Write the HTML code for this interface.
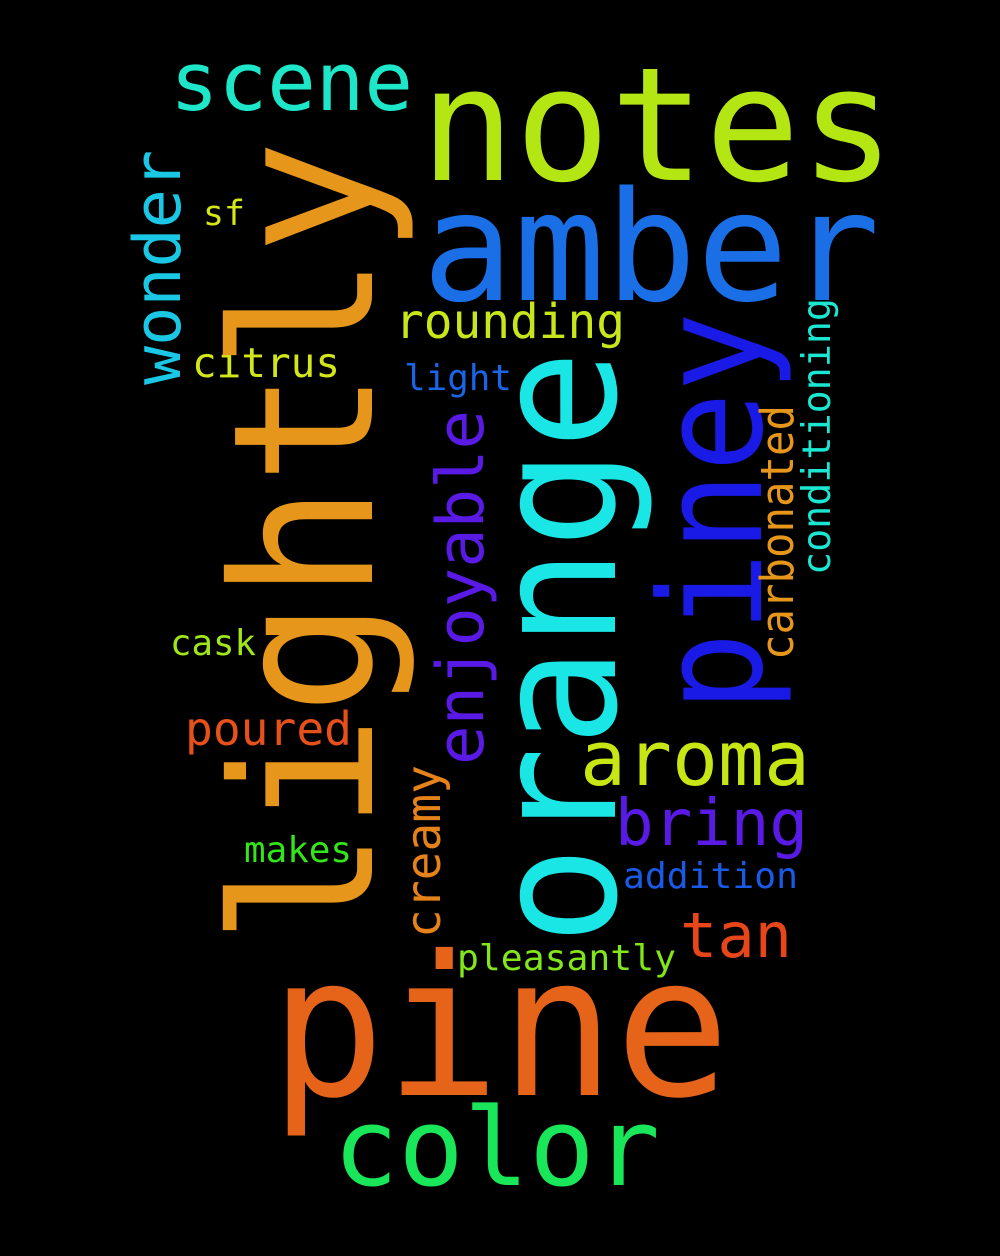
<!DOCTYPE html>
<html><head><meta charset="utf-8"><style>
html,body{margin:0;padding:0;background:#000;}
svg{display:block;}
text{font-family:"DejaVu Sans Mono","Liberation Mono",monospace;}
</style></head><body>
<svg width="1000" height="1256" viewBox="0 0 1000 1256">
<rect width="1000" height="1256" fill="#000"/>
<!-- horizontal words -->
<text x="420" y="180" font-size="158" fill="#b4e614" textLength="475" lengthAdjust="spacingAndGlyphs">notes</text>
<text x="422" y="300" font-size="152" fill="#1a6fe6" textLength="458" lengthAdjust="spacingAndGlyphs">amber</text>
<text x="170" y="110" font-size="81" fill="#1ee6c8" textLength="243" lengthAdjust="spacingAndGlyphs">scene</text>
<text x="270" y="1095" font-size="195" fill="#e6641a" textLength="460" lengthAdjust="spacingAndGlyphs">pine</text>
<text x="333" y="1185" font-size="108" fill="#1ae65a" textLength="327" lengthAdjust="spacingAndGlyphs">color</text>
<text x="580" y="785" font-size="76" fill="#c8e614" textLength="230" lengthAdjust="spacingAndGlyphs">aroma</text>
<text x="615" y="845" font-size="64" fill="#5a1ae6" textLength="193" lengthAdjust="spacingAndGlyphs">bring</text>
<text x="680" y="957" font-size="62" fill="#e6461a" textLength="112" lengthAdjust="spacingAndGlyphs">tan</text>
<text x="623" y="888" font-size="36" fill="#1a5ae6" textLength="175" lengthAdjust="spacingAndGlyphs">addition</text>
<text x="457" y="970" font-size="36" fill="#82e61a" textLength="219" lengthAdjust="spacingAndGlyphs">pleasantly</text>
<text x="244" y="862" font-size="36" fill="#32e61a" textLength="108" lengthAdjust="spacingAndGlyphs">makes</text>
<text x="185" y="745" font-size="46" fill="#e6501a" textLength="167" lengthAdjust="spacingAndGlyphs">poured</text>
<text x="170" y="655" font-size="36" fill="#a0e61a" textLength="86" lengthAdjust="spacingAndGlyphs">cask</text>
<text x="192" y="377" font-size="41" fill="#d2e61a" textLength="148" lengthAdjust="spacingAndGlyphs">citrus</text>
<text x="404" y="390" font-size="36" fill="#1a64e6" textLength="108" lengthAdjust="spacingAndGlyphs">light</text>
<text x="395" y="338" font-size="48" fill="#c8e61a" textLength="230" lengthAdjust="spacingAndGlyphs">rounding</text>
<text x="203" y="225" font-size="35" fill="#d2e61a" textLength="42" lengthAdjust="spacingAndGlyphs">sf</text>
<!-- vertical words -->
<text transform="translate(372,945) rotate(-90)" font-size="195" fill="#e6961a" textLength="805" lengthAdjust="spacingAndGlyphs">lightly</text>
<text transform="translate(615,945) rotate(-90)" font-size="170" fill="#1ae6e6" textLength="595" lengthAdjust="spacingAndGlyphs">orange</text>
<text transform="translate(761,712) rotate(-90)" font-size="142" fill="#1a1ae6" textLength="400" lengthAdjust="spacingAndGlyphs">piney</text>
<text transform="translate(483,765) rotate(-90)" font-size="65" fill="#5a1ae6" textLength="355" lengthAdjust="spacingAndGlyphs">enjoyable</text>
<text transform="translate(180,385) rotate(-90)" font-size="65" fill="#1ac8e6" textLength="235" lengthAdjust="spacingAndGlyphs">wonder</text>
<text transform="translate(440,938) rotate(-90)" font-size="48" fill="#e6821a" textLength="173" lengthAdjust="spacingAndGlyphs">creamy</text>
<text transform="translate(793,660) rotate(-90)" font-size="45" fill="#e6961a" textLength="255" lengthAdjust="spacingAndGlyphs">carbonated</text>
<text transform="translate(830,575) rotate(-90)" font-size="39" fill="#1ae6d2" textLength="277" lengthAdjust="spacingAndGlyphs">conditioning</text>
</svg>
</body></html>
